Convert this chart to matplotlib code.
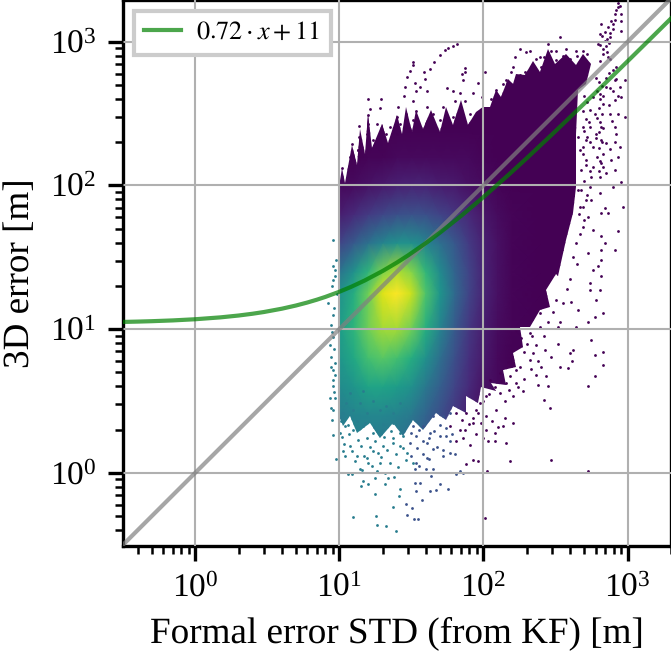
import numpy as np
import matplotlib
matplotlib.use('Agg')
import matplotlib.pyplot as plt
from matplotlib.patches import Polygon

plt.rcParams['font.family'] = ['Liberation Serif', 'DejaVu Serif']
plt.rcParams['mathtext.fontset'] = 'stix'
plt.rcParams['font.size'] = 8
plt.rcParams['text.hinting'] = 'none'

# density colour of the cloud (log10 axes)
dens_logx = [1.0, 1.1, 1.2, 1.3, 1.4, 1.5, 1.6, 1.7, 1.8, 1.9, 2.0, 2.1, 2.2, 2.4, 3.0]
dens_logy = [-0.5, 0.2, 0.4, 0.6, 0.8, 1.0, 1.25, 1.4, 1.6, 1.8, 2.0, 2.2, 2.4, 3.2]
dens_z = [
    [.38, .40, .40, .38, .36, .32, .26, .18, .10, .05, .02, 0, 0, 0, 0],
    [.40, .42, .42, .40, .38, .34, .28, .20, .12, .06, .02, 0, 0, 0, 0],
    [.42, .45, .46, .46, .44, .40, .32, .24, .16, .08, .03, .01, 0, 0, 0],
    [.48, .52, .58, .58, .55, .50, .40, .30, .20, .12, .05, .02, 0, 0, 0],
    [.52, .60, .70, .74, .70, .62, .50, .36, .24, .14, .07, .02, 0, 0, 0],
    [.55, .65, .78, .86, .86, .78, .62, .44, .28, .16, .08, .03, .01, 0, 0],
    [.50, .62, .78, .95, 1.0, .92, .72, .52, .34, .20, .10, .04, .01, 0, 0],
    [.38, .50, .65, .80, .88, .82, .66, .48, .32, .20, .10, .04, .01, 0, 0],
    [.20, .28, .37, .45, .50, .50, .45, .36, .27, .17, .09, .04, .01, 0, 0],
    [.08, .12, .17, .21, .24, .25, .24, .20, .16, .11, .06, .03, .01, 0, 0],
    [.02, .03, .05, .07, .09, .10, .10, .08, .07, .04, .03, .01, 0, 0, 0],
    [0, 0, .01, .01, .02, .02, .02, .02, .02, .02, .01, 0, 0, 0, 0],
    [0, 0, 0, 0, 0, 0, 0, 0, 0, 0, 0, 0, 0, 0, 0],
    [0, 0, 0, 0, 0, 0, 0, 0, 0, 0, 0, 0, 0, 0, 0],
]

# outline of the solid part of the cloud, with its spikes
edge_logx = [.999, 1.016, 1.039, 1.085, 1.12, 1.143, 1.177, 1.2, 1.23, 1.293, 1.339, 1.397, 1.432, 1.466, 1.501,
             1.535, 1.582, 1.639, 1.697, 1.743, 1.79, 1.847, 1.894, 1.951, 1.997, 2.044, 2.09, 2.125, 2.171,
             2.205, 2.229, 2.286, 2.344, 2.39, 2.448, 2.494, 2.575, 2.644, 2.691, 2.748, 2.714, 2.656, 2.644,
             2.644, 2.621, 2.575, 2.517, 2.506, 2.436, 2.46, 2.39, 2.321, 2.252, 2.275, 2.205, 2.229, 2.136,
             2.159, 2.055, 2.09, 1.986, 1.963, 1.882, 1.882, 1.79, 1.743, 1.674, 1.582, 1.512, 1.443, 1.374,
             1.281, 1.212, 1.12, 1.073, 1.027, .999]
edge_logy = [1.99, 2.118, 2.014, 2.28, 2.142, 2.396, 2.222, 2.5, 2.257, 2.43, 2.292, 2.488, 2.361, 2.546, 2.373,
             2.523, 2.396, 2.523, 2.373, 2.546, 2.419, 2.592, 2.419, 2.511, 2.546, 2.546, 2.661, 2.615, 2.742,
             2.707, 2.777, 2.765, 2.869, 2.788, 2.95, 2.846, 2.915, 2.835, 2.915, 2.846, 2.708, 2.661, 2.361,
             1.991, 1.807, 1.622, 1.368, 1.387, 1.271, 1.156, 1.133, 1.017, 1.017, .879, .832, .74, .717,
             .613, .625, .567, .6, .486, .532, .417, .463, .37, .417, .301, .37, .255, .347,
             .243, .347, .278, .394, .324, .394]

# single points outside of the solid part
dark_logx = [1.82, 1.79, 1.755, 1.73, 1.70, 1.66, 1.51, 1.51, 1.49, 1.47, 1.455, 1.45, 1.525, 1.535, 1.59, 1.63,
             1.595, 1.56, 1.605, 1.51, 1.41, 1.40, 1.465, 1.535, 1.605, 1.65, 1.72, 1.745, 1.79, 1.80, 1.85,
             1.875, 1.875, 1.86, 1.835, 1.87, 1.93, 1.96, 2.01, 1.99, 1.20, 1.29, 1.21, 1.20, 1.28, 1.14, 1.20,
             1.26, 1.085, 1.14, 1.13, 1.016, 1.073, 1.131, 1.189, 1.35, 1.42, 1.327, 1.235, 1.512, 1.605, 1.697,
             1.79, 1.905, 1.974, 2.533, 1.397, 1.489,
             2.933, 2.91, 2.887, 2.864, 2.817, 2.806, 2.794, 2.84, 2.899, 2.875, 2.945, 2.956, 2.956, 2.951,
             2.829, 2.806, 2.864, 2.922, 2.979, 2.945, 2.91, 2.956, 2.91, 2.852, 2.806, 2.76, 2.737, 2.771,
             2.829, 2.875, 2.933, 2.979, 2.91, 2.737, 2.783, 2.817, 2.817, 2.76, 2.714, 2.691, 2.691, 2.852,
             2.922, 2.945, 2.817, 2.76, 2.714, 2.887, 2.91, 2.956, 2.852, 2.806, 2.737, 2.714, 2.748, 2.806,
             2.899, 2.968, 2.84, 2.817, 2.725, 2.691, 2.76, 2.817, 2.84, 2.864, 2.933, 2.91, 2.725, 2.817,
             2.817, 2.76, 2.817, 2.794, 2.667, 2.656, 2.679, 2.667, 2.656, 2.748,
             2.252, 2.298, 2.321, 2.217, 2.205, 2.194, 2.448, 2.471, 2.506, 2.575, 2.644, 2.691, 2.718, 2.367,
             2.39, 2.136, 2.09, 2.055, 2.159, 2.229, 2.252, 2.286, 2.344, 2.402, 2.55, 2.6, 2.5, 2.65, 2.45,
             2.7, 2.42,
             2.402, 2.298, 2.344, 2.39, 2.506, 2.61, 2.656, 2.737, 2.737, 2.806, 2.783, 2.829, 2.725, 2.771,
             2.644, 2.529, 2.517, 2.39, 2.321, 2.229, 2.263, 2.367, 2.425, 2.344, 2.471, 2.517, 2.621, 2.598,
             2.617, 2.529, 2.587, 2.402, 2.367, 2.436, 2.379, 2.448, 2.771, 2.829, 2.748, 2.829, 2.771, 2.725,
             2.42, 2.46, 2.182, 2.471, 2.725, 2.025, 2.009, 2.229, 2.159, 2.113, 2.205, 2.182, 2.113, 2.044,
             2.09, 2.021, 2.148, 2.205, 2.136, 2.078, 2.032, 2.078, 2.159, 2.275, 2.229, 2.321, 2.252, 2.021,
             1.928, 1.963, 1.928, 1.882, 1.905, 1.859, 1.813, 1.767, 1.836, 1.882, 1.951, 1.974, 1.813,
             2.78, 2.80, 2.82, 2.79, 2.81, 2.83, 2.80, 2.82, 2.79, 2.81, 2.83, 2.80, 2.78, 2.82, 2.80, 2.83,
             2.79, 2.81, 2.83, 2.80, 2.70, 2.72, 2.69, 2.71, 2.73, 2.70, 2.72, 2.74, 2.69, 2.71, 2.74, 2.70,
             2.68, 2.72, 2.69, 2.66, 2.70, 2.67, 2.64, 2.62, 2.65, 2.60, 2.58, 2.55, 2.86, 2.88, 2.90, 2.91,
             2.92, 2.93, 2.85, 2.87, 2.83, 2.81, 2.82, 2.84, 2.86, 2.88, 2.90, 2.87, 2.85, 2.92, 2.88, 2.90,
             2.93, 2.87, 2.89, 2.91, 2.88, 2.93,
             2.30, 2.34, 2.28, 2.25, 2.20, 2.17, 2.12, 2.08, 2.04, 2.00, 1.96, 1.93, 1.90, 1.87, 1.85, 1.98,
             2.02, 2.06, 2.10, 2.00, 1.95, 2.15, 2.18, 2.24, 2.28, 2.33, 2.38, 2.42, 2.45, 2.48]
dark_logy = [2.985, 2.97, 2.955, 2.94, 2.905, 2.86, 2.86, 2.835, 2.795, 2.755, 2.685, 2.625, 2.71, 2.66, 2.79, 2.81,
             2.74, 2.685, 2.66, 2.59, 2.545, 2.475, 2.5, 2.52, 2.545, 2.50, 2.545, 2.675, 2.66, 2.59, 2.775,
             2.82, 2.79, 2.73, 2.64, 2.59, 2.64, 2.71, 2.79, 2.615, 2.60, 2.60, 2.535, 2.49, 2.54, 2.41, 2.43,
             2.43, 2.29, 2.34, 2.245, 2.12, 2.20, 2.245, 2.361, 2.407, 2.43, 2.361, 2.315, 2.453, 2.43, 2.453,
             2.476, 2.5, 2.5, 3.035, 2.361, 2.384,
             3.267, 3.19, 3.146, 3.10, 3.123, 3.054, 2.985, 3.008, 3.089, 3.031, 3.25, 3.146, 3.077, 3.19,
             2.915, 2.869, 2.892, 2.823, 2.73, 2.684, 2.73, 2.615, 2.592, 2.684, 2.638, 2.615, 2.523, 2.5,
             2.569, 2.5, 2.5, 2.477, 2.407, 2.407, 2.361, 2.407, 2.315, 2.269, 2.315, 2.407, 2.269, 2.292,
             2.361, 2.269, 2.153, 2.13, 2.176, 2.176, 2.107, 2.026, 2.084, 2.061, 1.991, 1.899, 1.899, 1.945,
             1.991, 1.853, 1.841, 1.807, 1.783, 1.714, 1.691, 1.645, 1.599, 1.807, 1.68, 1.553, 1.53, 1.553,
             1.483, 1.414, 1.368, 1.437, 1.853, 1.968, 2.107, 2.245, 2.338, 2.061,
             2.95, 2.927, 2.938, 2.892, 2.823, 2.788, 2.985, 2.938, 2.938, 2.95, 2.938, 2.938, 2.915, 2.881,
             2.892, 2.708, 2.661, 2.604, 2.731, 2.742, 2.765, 2.788, 2.835, 2.823, 2.90, 2.88, 2.87, 2.9, 2.92,
             2.88, 2.89,
             1.387, 1.248, 1.179, 1.11, 1.202, 1.19, 1.133, 1.318, 1.271, 1.271, 1.202, 1.11, 1.052, 1.087,
             1.017, 1.052, 1.017, 1.017, .971, .994, .936, .89, .856, .832, .809, .897, .856, .832,
             .775, .74, .729, .74, .682, .671, .613, .602, .821, .844, .925, .752, .675, .602,
             .505, .451, .082, .089, .015, .012, -.311, .717, .625, .555, .532, .671, .694, .648,
             .44, .394, .382, .347, .324, .278, .22, .22, .209, .567, .625, .786, .74, .532,
             .347, .082, .093, .059, .197, .243, .22, .324, .301, .417, .44, .486, .417,
             2.75, 2.72, 2.69, 2.66, 2.60, 2.62, 2.54, 2.50, 2.47, 2.44, 2.40, 2.37, 2.33, 2.30, 2.26, 2.22,
             2.20, 2.17, 2.13, 2.10, 2.62, 2.58, 2.52, 2.46, 2.44, 2.38, 2.34, 2.30, 2.22, 2.14, 2.10, 2.03,
             1.97, 1.93, 1.85, 1.80, 1.76, 1.66, 1.60, 1.50, 1.45, 1.35, 1.28, 1.18, 3.02, 3.06, 3.12, 3.15,
             3.22, 3.24, 2.97, 2.99, 2.95, 2.98, 3.04, 3.07, 2.93, 2.88, 2.80, 2.78, 2.75, 2.74, 2.68, 2.66,
             2.62, 2.56, 2.45, 2.30, 2.25, 2.20,
             .90, .95, .84, .88, .80, .77, .64, .60, .55, .50, .42, .38, .34, .30, .37, .35,
             .30, .36, .32, .24, .27, .50, .58, .60, .65, .72, .78, .95, 1.05, 1.12]

blue_logx = [1.651, 1.72, 1.767, 1.605, 1.651, 1.639, 1.697, 1.755, 1.674, 1.628, 1.577, 1.535, 1.524, 1.559, 1.813,
             1.859, 1.836, 1.535, 1.524, 1.605, 1.697, 1.535, 1.489, 1.628, 1.743, 1.512, 1.582, 1.651, 1.72,
             1.767, 1.547, 1.517, 1.471, 1.501, 1.462,
             1.50, 1.55, 1.58, 1.62, 1.66, 1.70, 1.74, 1.78, 1.54, 1.58, 1.62, 1.68, 1.72, 1.77, 1.80, 1.50,
             1.55, 1.60]
blue_logy = [.163, .116, .14, .105, .024, -.022, -.08, -.11, -.119, -.126, -.19, -.126, -.068, -.068, -.011,
             0, .012, .07, .024, .209, .255, .255, .209, .278, .255, .324, .324, .394, .394,
             .417, -.322, -.322, -.295, -.242, -.214,
             .28, .30, .22, .24, .29, .33, .31, .27, .17, .13, .10, .18, .16, .22, .13, .12,
             .05, .03]

teal_logx = [1.027, 1.073, 1.039, 1.12, 1.189, 1.235, 1.305, 1.374, 1.42, 1.466, 1.512, 1.281, 1.2, 1.143, 1.062,
             1.085, 1.166, 1.2, 1.154, 1.247, 1.316, 1.339, 1.42, 1.415, 1.247, 1.374, 1.258, 1.097, 1.263,
             1.323, 1.39, .976, .958, 1.004, 1.039, 1.097, 1.166, 1.235, 1.305, 1.374, 1.443, 1.027, 1.097,
             1.189, 1.281, 1.374, 1.466, 1.05, 1.143, 1.235, 1.327, 1.42, 1.073, 1.166, .958, .946, .951,
             .935, .97, .958, .958, .958, .97, .946, .935, .958, .946, .958, .923, .981, .958, .97, .97, .958,
             .976, .958,
             1.01, 1.06, 1.12, 1.18, 1.24, 1.30, 1.36, 1.41, 1.02, 1.07, 1.13, 1.19, 1.25, 1.31, 1.37, 1.42,
             1.03, 1.09, 1.15, 1.21, 1.27, 1.33, 1.39, 1.44, 1.11, 1.17, 1.23, 1.29, 1.35, 1.41, 1.47, 1.16,
             1.26, 1.32, 1.38, .96, .97, .945, .965, .95, .965, .95]
teal_logy = [.151, .186, .116, .116, .105, .151, .186, .209, .186, .093, .07, .07, .07, .024, -.011,
             -.011, -.057, -.08, -.092, -.034, -.08, -.034, -.115, -.161, -.149, -.237, -.299, -.304, -.364,
             -.369, -.406, .098, .267, .278, .324, .301, .324, .278, .301, .347, .255, .417, .44,
             .417, .44, .417, .394, .486, .486, .498, .463, .486, .555, .567, .44, .451, .37,
             .521, .521, .602, .648, .717, .763, .809, .89, .948, 1.029, 1.098, 1.179, 1.248, 1.341, 1.41, 1.368, 1.622,
             1.483, 1.437,
             .36, .33, .36, .35, .32, .34, .29, .33, .25, .27, .23, .24, .22, .25, .24, .28,
             .20, .15, .19, .18, .14, .16, .13, .17, .08, .12, .05, .11, .07, .04, .14, .02,
             .01, .0, -.03, .56, .68, .74, .86, .98, 1.15, 1.30]

slope = 0.72
offset = 11
line_x = [0.316, 0.4, 0.5, 0.7, 1, 1.5, 2, 2.5, 3, 4, 5, 6, 7, 8, 10, 12, 15, 20, 25, 30, 40, 50, 70, 100, 150,
          200, 300, 500, 700, 1000, 1500, 2000]

fig = plt.figure(figsize=(671 / 300, 652 / 300), dpi=300)
ax = fig.add_axes([123 / 671, 1 - 546 / 652, 548 / 671, 546 / 652])
ax.set_xscale('log')
ax.set_yscale('log')

cmap = plt.get_cmap('viridis')
mesh = ax.pcolormesh(10 ** np.array(dens_logx), 10 ** np.array(dens_logy), np.array(dens_z),
                     cmap=cmap, vmin=0, vmax=1, shading='gouraud', zorder=1)
outline = Polygon(np.column_stack([10 ** np.array(edge_logx), 10 ** np.array(edge_logy)]),
                  transform=ax.transData, fill=False, lw=0)
ax.add_patch(outline)
mesh.set_clip_path(outline)

ax.scatter(10 ** np.array(dark_logx), 10 ** np.array(dark_logy), s=0.45, lw=0, color=cmap(0.0), zorder=1)
ax.scatter(10 ** np.array(blue_logx), 10 ** np.array(blue_logy), s=0.45, lw=0, color=cmap(0.25), zorder=1)
ax.scatter(10 ** np.array(teal_logx), 10 ** np.array(teal_logy), s=0.45, lw=0, color=cmap(0.42), zorder=1)

ax.plot([0.316, 2000], [0.316, 2000], color='gray', alpha=0.7, lw=1.0, zorder=3)
ax.plot(line_x, slope * np.array(line_x) + offset, color='green', alpha=0.7, lw=1.0, zorder=3,
        label=r'$0.72 \cdot x + 11$')

ax.set_xlim(0.316, 2000)
ax.set_ylim(0.31, 1950)
ax.grid(True, which='major', color='#b0b0b0', lw=0.5, zorder=2)
ax.set_axisbelow(False)
ax.set_xlabel('Formal error STD (from KF) [m]', fontsize=8.93, labelpad=3)
ax.set_ylabel('3D error [m]', fontsize=8.93, labelpad=3)
ax.tick_params(labelsize=8, pad=3)

leg = ax.legend(loc='upper left', fontsize=6.3, fancybox=False, framealpha=1, edgecolor='#cccccc',
                handlelength=1.4, handletextpad=0.6, borderaxespad=0.4)
leg.get_frame().set_linewidth(1.0)

fig.savefig('out.png', dpi=300)
